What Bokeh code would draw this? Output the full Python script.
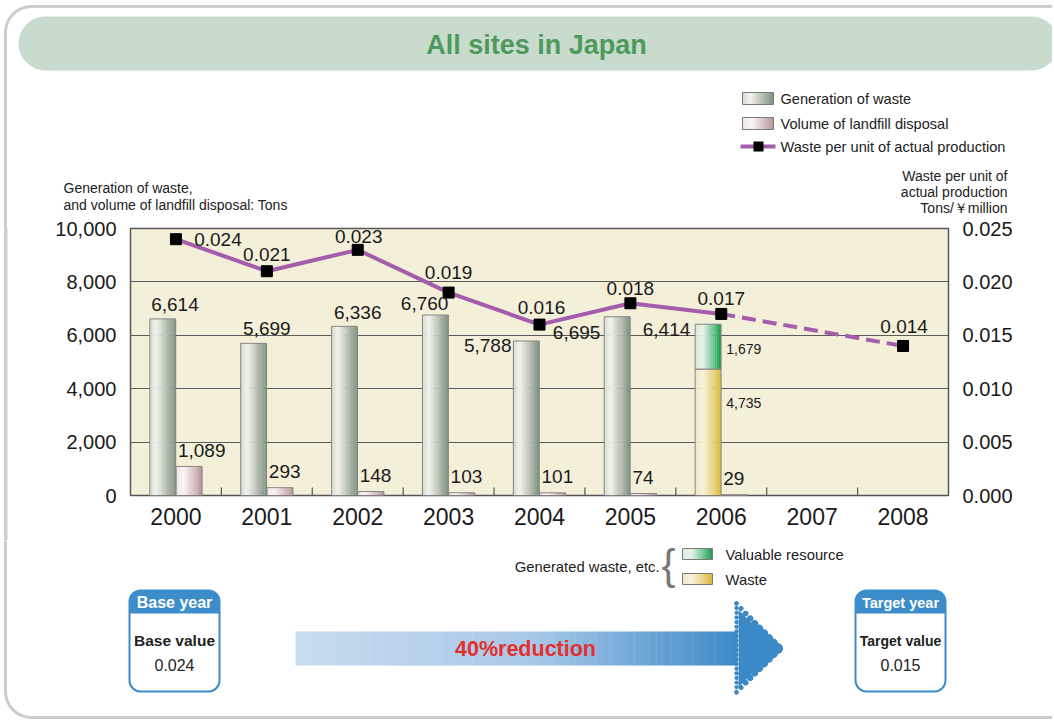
import math
import numpy as np
from bokeh.plotting import figure
from bokeh.layouts import column, row
from bokeh.models import (ColumnDataSource, Range1d, LinearAxis, FixedTicker,
                          NumeralTickFormatter, Label, BoxAnnotation, PolyAnnotation)
from bokeh.transform import dodge
from bokeh.core.properties import value
from bokeh.embed import file_html
from bokeh.resources import INLINE

# ---------------- data ----------------
years = [2000, 2001, 2002, 2003, 2004, 2005, 2006, 2007, 2008]
generation = [6614, 5699, 6336, 6760, 5788, 6695, 6414, None, None]
landfill = [1089, 293, 148, 103, 101, 74, 29, None, None]
waste_part = [None, None, None, None, None, None, 4735, None, None]
valuable_part = [None, None, None, None, None, None, 1679, None, None]
rate = [0.024, 0.021, 0.023, 0.019, 0.016, 0.018, 0.017, None, 0.014]
left_ticks = [0, 2000, 4000, 6000, 8000, 10000]
right_ticks = [0.0, 0.005, 0.010, 0.015, 0.020, 0.025]
base_value = "0.024"
target_value = "0.015"
reduction_text = "40%reduction"

SANS = "Liberation Sans"


def nan(v):
    return np.nan if v is None else v


def hex_rgb(h):
    h = h.lstrip("#")
    return tuple(int(h[i:i + 2], 16) for i in (0, 2, 4))


def interp(stops, t):
    for (t0, c0), (t1, c1) in zip(stops[:-1], stops[1:]):
        if t0 <= t <= t1:
            f = 0 if t1 == t0 else (t - t0) / (t1 - t0)
            a, b = hex_rgb(c0), hex_rgb(c1)
            return "#%02x%02x%02x" % tuple(int(round(a[i] + (b[i] - a[i]) * f)) for i in range(3))
    return stops[-1][1]


GEN_STOPS = [(0, "#d3d9ce"), (0.25, "#f3f5ef"), (0.55, "#c3cbbf"), (1.0, "#7f9082")]
LAND_STOPS = [(0, "#eee4e6"), (0.3, "#faf5f5"), (1.0, "#b7939a")]
GREEN_STOPS = [(0, "#d6eadb"), (0.3, "#e9f3eb"), (1.0, "#14a04a")]
YELLOW_STOPS = [(0, "#efe5c6"), (0.3, "#f8f3df"), (1.0, "#dbba38")]
ARROW_STOPS = [(0, "#c7dcef"), (0.55, "#a6c7e7"), (1.0, "#3c89c7")]
BLUE = "#3c8dc9"
PURPLE = "#a35dab"
BORDER = "#cdcdcd"

# page rows: top band 0..214, chart 214..540, bottom 540..721
TOP_H = 214
CHART_TOP_PAD = 14
FRAME_H = 267
CHART_BOT_PAD = 45
BOTTOM_Y0 = TOP_H + CHART_TOP_PAD + FRAME_H + CHART_BOT_PAD
BOTTOM_Y1 = 721
STRIP_W = 40
PAGE_W = 1052


def deco_fig(x0, x1, y0, y1):
    f = figure(x_range=Range1d(x0, x1), y_range=Range1d(y1, y0),
               frame_width=x1 - x0, frame_height=y1 - y0,
               min_border=0, min_border_left=0, min_border_right=0,
               min_border_top=0, min_border_bottom=0,
               x_axis_type=None, y_axis_type=None,
               output_backend="svg", toolbar_location=None,
               outline_line_color=None, background_fill_color="white",
               border_fill_color="white")
    f.xgrid.visible = False
    f.ygrid.visible = False
    return f


def box(f, l, r, t, b, fill=None, line=None, lw=1, radius=0):
    f.add_layout(BoxAnnotation(left=l, right=r, top=t, bottom=b,
                               fill_color=fill, fill_alpha=1.0 if fill else 0.0,
                               line_color=line, line_alpha=1.0 if line else 0.0,
                               line_width=lw, border_radius=radius))


def grad_box(f, l, r, t, b, stops, n=16, outline="#7a7a7a"):
    w = (r - l) / n
    for k in range(n):
        box(f, l + k * w, min(r, l + (k + 1) * w + 0.4), t, b, fill=interp(stops, (k + 0.5) / n))
    if outline:
        box(f, l, r, t, b, line=outline, lw=1)


def label(f, x, y, text, size, align="left", style="normal", color="#222222"):
    f.add_layout(Label(x=x, y=y, text=text, text_align=align, text_baseline="middle",
                       text_font=SANS, text_font_size="%spx" % size,
                       text_font_style=style, text_color=color))


def dot(f, cx, cy, r, color):
    n = 14
    xs = [cx + r * math.cos(2 * math.pi * k / n) for k in range(n)]
    ys = [cy + r * math.sin(2 * math.pi * k / n) for k in range(n)]
    f.add_layout(PolyAnnotation(xs=xs, ys=ys, fill_color=color, fill_alpha=1.0, line_alpha=0.0))


# ================= top band =================
top = deco_fig(0, PAGE_W, 0, TOP_H)
box(top, 5, 1090, 6, 900, line=BORDER, lw=3, radius=26)
box(top, 18, 1058, 16, 70, fill="#c9dbcc", radius=27)
label(top, 536, 44, "All sites in Japan", 27, style="bold", color="#4e9a5e", align="center")

grad_box(top, 742, 773, 92, 104, GEN_STOPS)
label(top, 780, 98, "Generation of waste", 14.6)
grad_box(top, 742, 773, 117, 129, LAND_STOPS)
label(top, 780, 123, "Volume of landfill disposal", 14.6)
box(top, 740, 775, 144, 148, fill=PURPLE)
box(top, 753, 763, 141, 151, fill="black")
label(top, 780, 146, "Waste per unit of actual production", 14.6)

label(top, 1007, 175, "Waste per unit of", 14, align="right")
label(top, 1007, 191, "actual production", 14, align="right")
label(top, 1007, 207, "Tons/\uffe5million", 14, align="right")
label(top, 63, 187, "Generation of waste,", 14)
label(top, 63, 204, "and volume of landfill disposal: Tons", 14)

# ================= left strip (outer border line) =================
strip = figure(x_range=Range1d(0, 1), y_range=Range1d(0, 1),
               frame_width=3, frame_height=BOTTOM_Y0 - TOP_H,
               min_border=0, min_border_left=4, min_border_right=STRIP_W - 7,
               min_border_top=0, min_border_bottom=0,
               x_axis_type=None, y_axis_type=None,
               output_backend="svg", toolbar_location=None,
               outline_line_color=None, background_fill_color=BORDER,
               border_fill_color=None)
strip.xgrid.visible = False
strip.ygrid.visible = False
strip.styles = {"background": "linear-gradient(90deg, #ffffff 0px, #ffffff 4px, "
                              "#cdcdcd 4px, #cdcdcd 7px, #ffffff 7px)"}

# ================= chart =================
p = figure(x_range=Range1d(years[0] - 0.5, years[-1] + 0.5), y_range=Range1d(0, 10000),
           frame_width=818, frame_height=FRAME_H,
           min_border_left=130 - STRIP_W, min_border_right=PAGE_W - 948,
           min_border_top=CHART_TOP_PAD, min_border_bottom=CHART_BOT_PAD,
           output_backend="svg", toolbar_location=None,
           background_fill_color="#f3efd9", border_fill_color="white",
           outline_line_color="#555555", outline_line_width=1.5)
p.extra_y_ranges = {"rate": Range1d(0, 0.025)}


def style_axis(ax, size, standoff):
    ax.axis_line_color = None
    ax.major_tick_line_color = None
    ax.minor_tick_line_color = None
    ax.major_tick_in = 0
    ax.major_tick_out = 0
    ax.major_label_text_font = SANS
    ax.major_label_text_font_size = size
    ax.major_label_text_color = "#1a1a1a"
    ax.major_label_standoff = standoff


yl = p.yaxis[0]
yl.ticker = FixedTicker(ticks=left_ticks)
yl.formatter = NumeralTickFormatter(format="0,0")
style_axis(yl, "20px", 14)

yr = LinearAxis(y_range_name="rate", ticker=FixedTicker(ticks=right_ticks),
                formatter=NumeralTickFormatter(format="0.000"))
style_axis(yr, "20px", 14)
p.add_layout(yr, "right")

xa = p.xaxis[0]
xa.ticker = FixedTicker(ticks=years)
xa.formatter = NumeralTickFormatter(format="0")
style_axis(xa, "23px", 12)

p.ygrid.ticker = FixedTicker(ticks=left_ticks)
p.ygrid.grid_line_color = "#5a5a5a"
p.ygrid.grid_line_width = 1.2
p.xgrid.grid_line_color = None

tick_src = ColumnDataSource(dict(year=years[:-1]))
p.segment(x0=dodge("year", 0.5), x1=dodge("year", 0.5),
          y0=0, y1=300, source=tick_src, line_color="#555555", line_width=1.2)

has_split = [w is not None for w in waste_part]
bar_src = ColumnDataSource(dict(
    year=years,
    gen=[nan(g) if not s else np.nan for g, s in zip(generation, has_split)],
    land=[nan(v) for v in landfill],
    waste=[nan(v) for v in waste_part],
    stack=[np.nan if w is None else w + v for w, v in zip(waste_part, valuable_part)],
))

BAR_W = 0.285
GEN_OFF = -0.145
LAND_OFF = 0.145


def strip_bars(topf, bottom, center, stops, n=12):
    for k in range(n):
        t = (k + 0.5) / n
        off = center - BAR_W / 2 + (k + 0.5) * BAR_W / n
        p.vbar(x=dodge("year", off), top=topf, bottom=bottom,
               width=BAR_W / n * 1.08, source=bar_src,
               fill_color=interp(stops, t), line_color=None)
    p.vbar(x=dodge("year", center), top=topf, bottom=bottom,
           width=BAR_W, source=bar_src, fill_color=None,
           line_color="#868686", line_width=1)


strip_bars("gen", 0, GEN_OFF, GEN_STOPS)
strip_bars("land", 0, LAND_OFF, LAND_STOPS)
strip_bars("waste", 0, GEN_OFF, YELLOW_STOPS)
strip_bars("stack", "waste", GEN_OFF, GREEN_STOPS)

solid_idx = [i for i, r in enumerate(rate) if r is not None and i <= 6]
dash_idx = [i for i, r in enumerate(rate) if r is not None and i >= 6]
pt_idx = [i for i, r in enumerate(rate) if r is not None]
solid_src = ColumnDataSource(dict(year=[years[i] for i in solid_idx], r=[rate[i] for i in solid_idx]))
dash_src = ColumnDataSource(dict(year=[years[i] for i in dash_idx], r=[rate[i] for i in dash_idx]))
p.line(x="year", y="r", source=solid_src, y_range_name="rate", line_color=PURPLE, line_width=4)
p.line(x="year", y="r", source=dash_src, y_range_name="rate", line_color=PURPLE, line_width=4,
       line_dash="14 7")

rate_dx = [42, 0, 1, 0, 2, 0, 0, 1]
rate_dy = [0, -17, -13, -20, -17, -15, -15, -19]
pt_src = ColumnDataSource(dict(
    year=[years[i] for i in pt_idx], r=[rate[i] for i in pt_idx],
    t=["%.3f" % rate[i] for i in pt_idx], dx=rate_dx, dy=rate_dy))
p.scatter(x="year", y="r", source=pt_src, y_range_name="rate", marker="square",
          size=11, fill_color="black", line_color="black")
p.text(x="year", y="r", text="t", source=pt_src, y_range_name="rate",
       x_offset="dx", y_offset="dy", text_align="center", text_baseline="middle",
       text_font=value(SANS), text_font_size="19px", text_color="#1a1a1a")

gen_idx = [i for i, g in enumerate(generation) if g is not None]
gen_dx = [-1, 0, 0, -24, -28, -30, -31]
gen_dy = [-14, -15, -14, -12, 5, 16, 5]
gen_align = ["center", "center", "center", "center", "right", "right", "right"]
for al in ("center", "right"):
    sel = [k for k, a in enumerate(gen_align) if a == al]
    src = ColumnDataSource(dict(
        year=[years[gen_idx[k]] for k in sel], v=[generation[gen_idx[k]] for k in sel],
        t=["{:,}".format(generation[gen_idx[k]]) for k in sel],
        dx=[gen_dx[k] for k in sel], dy=[gen_dy[k] for k in sel]))
    p.text(x="year", y="v", text="t", source=src, x_offset="dx", y_offset="dy",
           text_align=al, text_baseline="middle", text_font=value(SANS),
           text_font_size="19px", text_color="#1a1a1a")

land_idx = [i for i, v in enumerate(landfill) if v is not None]
land_src = ColumnDataSource(dict(
    year=[years[i] for i in land_idx], v=[landfill[i] for i in land_idx],
    t=["{:,}".format(landfill[i]) for i in land_idx]))
p.text(x="year", y="v", text="t", source=land_src, x_offset=2, y_offset=-16,
       text_align="left", text_baseline="middle", text_font=value(SANS),
       text_font_size="19px", text_color="#1a1a1a")

split_idx = [i for i, w in enumerate(waste_part) if w is not None]
split_src = ColumnDataSource(dict(
    year=[years[i] for i in split_idx],
    top=[waste_part[i] + valuable_part[i] for i in split_idx],
    w=[waste_part[i] for i in split_idx],
    tv=["{:,}".format(valuable_part[i]) for i in split_idx],
    tw=["{:,}".format(waste_part[i]) for i in split_idx]))
p.text(x="year", y="top", text="tv", source=split_src, x_offset=5, y_offset=25,
       text_align="left", text_baseline="middle", text_font=value(SANS),
       text_font_size="14px", text_color="#1a1a1a")
p.text(x="year", y="w", text="tw", source=split_src, x_offset=5, y_offset=34,
       text_align="left", text_baseline="middle", text_font=value(SANS),
       text_font_size="14px", text_color="#1a1a1a")

# ================= bottom band =================
bot = deco_fig(0, PAGE_W, BOTTOM_Y0, BOTTOM_Y1)
box(bot, 5, 1090, -300, 717, line=BORDER, lw=3, radius=26)

label(bot, 659, 566, "Generated waste, etc.", 14.8, align="right")
label(bot, 668, 564, "{", 42, color="#777777", align="center")
grad_box(bot, 682, 712, 548, 559, GREEN_STOPS)
label(bot, 725, 554, "Valuable resource", 14.8)
grad_box(bot, 682, 712, 573, 584, YELLOW_STOPS)
label(bot, 725, 579, "Waste", 14.8)

for (l, r, head, sub, val, hs, ss) in [
        (129, 219, "Base year", "Base value", base_value, 16, 15.5),
        (855, 945, "Target year", "Target value", target_value, 14.5, 14)]:
    box(bot, l, r, 590, 691, fill="white", radius=11)
    box(bot, l, r, 590, 613, fill=BLUE, radius=(11, 11, 0, 0))
    box(bot, l, r, 590, 691, line=BLUE, lw=2, radius=11)
    cx = (l + r) / 2
    label(bot, cx, 602, head, hs, style="bold", color="white", align="center")
    label(bot, cx, 640, sub, ss, style="bold", color="#222222", align="center")
    label(bot, cx, 664, val, 16, color="#222222", align="center")

grad_box(bot, 295, 737, 631, 665, ARROW_STOPS, n=60, outline=None)
bot.add_layout(PolyAnnotation(xs=[738, 776, 738], ys=[609, 648, 687],
                              fill_color="#3c89c7", fill_alpha=1.0, line_alpha=0.0))
for k in range(20):
    dot(bot, 736, 603 + k * 4.65, 2.1, "#3c89c7")
for k in range(10):
    fr = k / 9
    rr = 2.2 + 3.2 * fr
    dot(bot, 736 + 41 * fr, 603 + 45 * fr, rr, "#3c89c7")
    dot(bot, 736 + 41 * fr, 692 - 44 * fr, rr, "#3c89c7")
label(bot, 525, 648, reduction_text, 21.5, style="bold", color="#e3302c", align="center")

layout = column(top, row(strip, p, spacing=0), bot, spacing=0)
open("out.html", "w").write(file_html(layout, INLINE))
